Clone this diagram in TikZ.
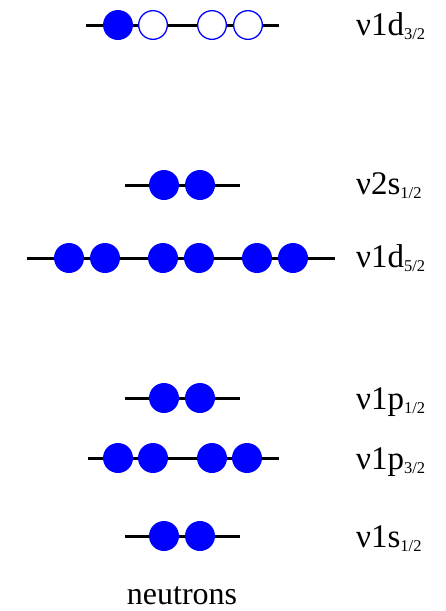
\documentclass[tikz,border=0pt]{standalone}
\usepackage{fontspec}
\setmainfont{Liberation Serif}
\begin{document}
\begin{tikzpicture}[x=1pt,y=-1pt,
  level/.style={line width=3pt,black},
  full/.style={circle,fill=blue,minimum size=30pt,inner sep=0pt},
  empty/.style={circle,draw=blue,fill=white,line width=1.3pt,minimum size=28.7pt,inner sep=0pt},
  lbl/.style={anchor=base west,inner sep=0pt,font=\fontsize{33}{33}\selectfont}]
\useasboundingbox (0,0) rectangle (446,611);
\newcommand{\sbs}[1]{\raisebox{-4pt}{\fontsize{16.5}{16.5}\selectfont #1}}

% nu 1d3/2
\coordinate (a1) at (86,25); \coordinate (a2) at (279,25);
\draw[level] (a1) -- (a2);
\node[full]  (a-c1) at (118,25) {};
\node[empty] (a-c2) at (153,25) {};
\node[empty] (a-c3) at (212,25) {};
\node[empty] (a-c4) at (248,25) {};
\node[lbl] (a-l) at (356,35) {ν1d\sbs{3/2}};

% nu 2s1/2
\coordinate (b1) at (125,185); \coordinate (b2) at (240,185);
\draw[level] (b1) -- (b2);
\node[full] (b-c1) at (164,185) {};
\node[full] (b-c2) at (200,185) {};
\node[lbl] (b-l) at (356,194) {ν2s\sbs{1/2}};

% nu 1d5/2
\coordinate (c1) at (27,258); \coordinate (c2) at (335,258);
\draw[level] (c1) -- (c2);
\node[full] (c-c1) at (69,258) {};
\node[full] (c-c2) at (105,258) {};
\node[full] (c-c3) at (163,258) {};
\node[full] (c-c4) at (199,258) {};
\node[full] (c-c5) at (257,258) {};
\node[full] (c-c6) at (293,258) {};
\node[lbl] (c-l) at (356,267) {ν1d\sbs{5/2}};

% nu 1p1/2
\coordinate (d1) at (125,398); \coordinate (d2) at (240,398);
\draw[level] (d1) -- (d2);
\node[full] (d-c1) at (164,398) {};
\node[full] (d-c2) at (200,398) {};
\node[lbl] (d-l) at (356,409) {ν1p\sbs{1/2}};

% nu 1p3/2
\coordinate (e1) at (88,458); \coordinate (e2) at (279,458);
\draw[level] (e1) -- (e2);
\node[full] (e-c1) at (118,458) {};
\node[full] (e-c2) at (153,458) {};
\node[full] (e-c3) at (212,458) {};
\node[full] (e-c4) at (247,458) {};
\node[lbl] (e-l) at (356,469) {ν1p\sbs{3/2}};

% nu 1s1/2
\coordinate (f1) at (125,536); \coordinate (f2) at (240,536);
\draw[level] (f1) -- (f2);
\node[full] (f-c1) at (164,536) {};
\node[full] (f-c2) at (200,536) {};
\node[lbl] (f-l) at (356,547) {ν1s\sbs{1/2}};

\node[anchor=base,inner sep=0pt,font=\fontsize{32}{32}\selectfont] (title) at (182,604) {neutrons};
\end{tikzpicture}
\end{document}
